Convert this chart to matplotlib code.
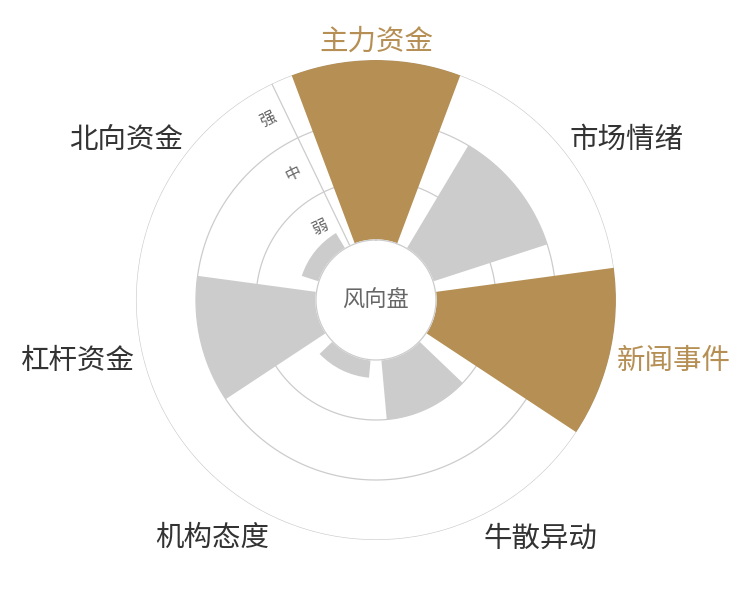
import numpy as np
import matplotlib
matplotlib.use('Agg')
import matplotlib.pyplot as plt

plt.rcParams['font.family'] = ['Noto Sans CJK SC', 'DejaVu Sans']

# ── Data ──────────────────────────────────────────────────────────────────────
CATEGORIES = ['主力资金', '市场情绪', '新闻事件', '牛散异动', '机构态度', '杠杆资金', '北向资金']
VALUES = [3, 2, 3, 1, 0.3, 2, 0.3]
LEVELS = ['弱', '中', '强']
CENTER_TEXT = '风向盘'

# ── Style ─────────────────────────────────────────────────────────────────────
GOLD = '#B58F53'
GREY_BAR = '#CCCCCC'
GRID = '#CCCCCC'
TEXT_DARK = '#333333'
TEXT_MID = '#666666'

HOLE = 1.0                     # inner hole, in level units
R_MAX = HOLE + len(LEVELS)
BAR_FRAC = 0.8

fig = plt.figure(figsize=(7.5, 6), dpi=100)
ax = fig.add_axes([0.1813, 0.1, 0.64, 0.8], projection='polar')
ax.set_theta_zero_location('N')
ax.set_theta_direction(-1)
ax.set_ylim(0, R_MAX)
ax.axis('off')

n = len(CATEGORIES)
step = 2 * np.pi / n
theta = np.arange(n) * step
full = np.linspace(0, 2 * np.pi, 721)

# grid rings + radius axis line
for r in np.arange(HOLE + 1, R_MAX + 0.01, 1):
    ax.plot(full, np.full_like(full, r), color=GRID, lw=0.9, zorder=1)
axis_ang = -step / 2
ax.plot([axis_ang, axis_ang], [HOLE, R_MAX], color=GRID, lw=0.9, zorder=1)

# bars
colors = [GOLD if v >= len(LEVELS) else GREY_BAR for v in VALUES]
ax.bar(theta, VALUES, width=step * BAR_FRAC, bottom=HOLE,
       color=colors, linewidth=0, zorder=2)

# centre disc
ax.fill(full, np.full_like(full, HOLE), color='white', zorder=3)
ax.plot(full, np.full_like(full, HOLE), color=GRID, lw=0.9, zorder=4)
ax.text(0, 0, CENTER_TEXT, ha='center', va='center', fontsize=16,
        color=TEXT_MID, zorder=5)

# level labels, just left of the radius axis line and rotated along it
rot = -np.degrees(axis_ang)               # counter-clockwise on screen
ux, uy = np.sin(axis_ang), np.cos(axis_ang)
px, py = -uy, ux                          # left-hand perpendicular
for i, lab in enumerate(LEVELS):
    ax.annotate(lab, xy=(axis_ang, HOLE + i + 0.5),
                xytext=(19 * px, 19 * py), textcoords='offset pixels',
                rotation=rot, rotation_mode='anchor',
                ha='center', va='center', fontsize=11.5, color=TEXT_MID, zorder=5)

# category labels
for ang, lab, v in zip(theta, CATEGORIES, VALUES):
    s, c = np.sin(ang), np.cos(ang)
    ha = 'center' if abs(s) < 0.1 else ('left' if s > 0 else 'right')
    ax.annotate(lab, xy=(ang, R_MAX + 0.12), xytext=(0, 14 * c - 3),
                textcoords='offset pixels', ha=ha, va='center',
                fontsize=20.5, color=GOLD if v >= len(LEVELS) else TEXT_DARK,
                annotation_clip=False)

fig.savefig('out.png', dpi=100)
